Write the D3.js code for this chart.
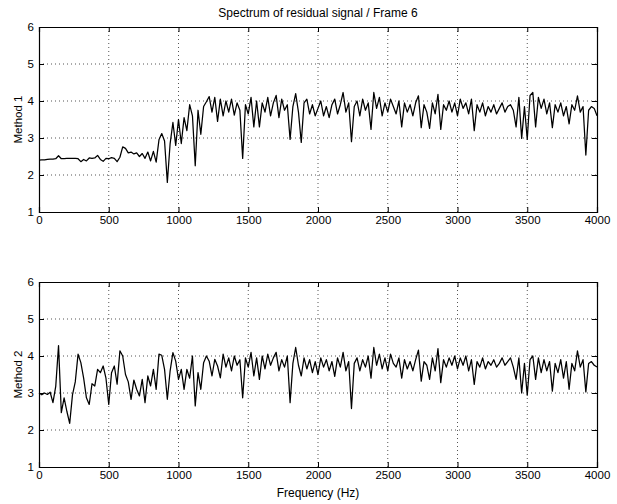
<!DOCTYPE html>
<html>
<head>
<meta charset="utf-8">
<script src="https://cdn.jsdelivr.net/npm/d3@7"></script>
<style>
    body { margin: 0; background: #fff; }
    svg text { font-family: "Liberation Sans", Arial, sans-serif; fill: #000; }
    .axis path, .axis line { stroke: #000; }
    .grid line { stroke: #555; stroke-dasharray: 1,3; }
</style>
</head>
<body>
<svg class="main" width="617" height="504"></svg>
<script>
'use strict';

// frequency step between samples (Hz), samples start at 0
var freqStep = 20;

// Method 1 spectrum, one value every 20 Hz from 0 to 4000
var method1 = [
    2.40, 2.41, 2.41, 2.42, 2.43, 2.43, 2.44, 2.52, 2.44, 2.44,
    2.45, 2.45, 2.45, 2.45, 2.44, 2.36, 2.42, 2.38, 2.46, 2.45,
    2.46, 2.53, 2.42, 2.37, 2.45, 2.44, 2.47, 2.45, 2.36, 2.48,
    2.76, 2.72, 2.60, 2.62, 2.57, 2.60, 2.50, 2.58, 2.45, 2.62,
    2.38, 2.64, 2.35, 2.95, 3.12, 2.92, 1.80, 2.85, 3.42, 2.80,
    3.50, 2.85, 3.55, 3.20, 3.90, 3.60, 2.25, 3.75, 3.10, 3.85,
    3.98, 4.12, 3.70, 4.10, 3.45, 4.05, 3.60, 4.00, 3.70, 4.05,
    3.62, 3.95, 3.75, 2.45, 3.90, 3.65, 4.10, 3.30, 4.00, 3.30,
    3.95, 3.70, 4.10, 3.60, 3.95, 4.15, 3.55, 4.05, 3.75, 3.90,
    2.96, 3.85, 4.20, 3.70, 2.88, 3.95, 4.05, 3.65, 3.90, 3.60,
    3.80, 4.00, 3.60, 3.85, 3.55, 3.90, 4.05, 3.65, 3.90, 4.23,
    3.70, 3.95, 2.90, 3.85, 4.00, 3.60, 4.05, 3.75, 3.95, 3.23,
    4.23, 3.80, 4.10, 3.60, 3.95, 3.70, 4.05, 3.85, 3.65, 4.00,
    3.30, 3.95, 3.70, 3.90, 3.60, 3.95, 4.14, 3.28, 3.90, 3.70,
    3.26, 3.95, 3.65, 4.18, 3.23, 3.90, 3.75, 4.00, 3.70, 3.95,
    3.60, 4.05, 3.80, 3.95, 3.65, 4.05, 3.20, 3.90, 3.70, 3.95,
    3.60, 3.85, 3.70, 3.90, 3.65, 3.80, 3.95, 3.70, 3.85, 3.90,
    3.75, 3.30, 4.10, 2.99, 3.85, 2.96, 4.15, 4.23, 3.30, 4.10,
    3.80, 4.05, 3.65, 3.95, 3.28, 3.90, 3.70, 3.95, 3.60, 3.85,
    3.38, 3.90, 3.75, 4.14, 3.70, 3.85, 2.54, 3.75, 3.85, 3.80,
    3.60
];

// Method 2 spectrum, same frequency grid
var method2 = [
    3.00, 2.95, 3.00, 2.96, 3.02, 2.74, 3.18, 4.28, 2.47, 2.87,
    2.50, 2.18, 2.95, 3.30, 4.05, 3.82, 3.40, 2.87, 2.69, 3.25,
    3.19, 3.64, 3.55, 3.73, 3.40, 2.69, 3.55, 3.73, 3.24, 4.14,
    4.00, 3.50, 3.30, 2.83, 3.35, 3.10, 2.92, 3.37, 2.74, 3.46,
    3.19, 3.64, 3.10, 4.05, 4.02, 3.64, 2.83, 3.60, 4.09, 3.86,
    3.37, 3.64, 3.10, 3.64, 3.40, 4.00, 2.65, 3.55, 3.10, 3.82,
    4.00, 3.86, 3.46, 3.91, 3.73, 3.41, 4.05, 3.70, 3.95, 3.60,
    4.00, 3.75, 3.90, 2.87, 3.95, 3.70, 4.10, 3.46, 3.95, 3.37,
    4.00, 3.65, 4.05, 3.75, 3.95, 4.10, 3.60, 3.90, 3.70, 4.00,
    2.74, 3.80, 4.23, 3.75, 3.46, 3.95, 3.65, 3.90, 3.55, 3.85,
    3.50, 3.95, 3.70, 3.90, 3.60, 3.85, 3.45, 3.95, 3.70, 4.10,
    3.60, 3.85, 2.58, 3.80, 3.95, 3.60, 3.90, 3.70, 4.00, 3.40,
    4.23, 3.75, 4.05, 3.65, 3.95, 3.60, 4.05, 3.80, 3.70, 3.95,
    3.40, 3.90, 3.65, 3.85, 3.60, 3.90, 4.16, 3.32, 3.85, 3.75,
    3.37, 3.95, 3.60, 4.20, 3.28, 3.90, 3.70, 3.95, 3.75, 4.00,
    3.65, 3.95, 3.75, 4.00, 3.60, 3.90, 3.23, 3.85, 3.70, 3.95,
    3.65, 3.85, 3.75, 3.90, 3.70, 3.80, 3.95, 3.75, 3.85, 3.95,
    3.70, 3.37, 3.95, 3.00, 3.80, 2.94, 3.90, 4.00, 3.37, 3.95,
    3.55, 3.90, 3.60, 3.85, 3.05, 3.80, 3.55, 3.90, 3.40, 3.85,
    3.10, 3.80, 3.60, 4.14, 3.70, 3.90, 3.03, 3.80, 3.85, 3.75,
    3.70
];

var xTicks = [0, 500, 1000, 1500, 2000, 2500, 3000, 3500, 4000];
var yTicks = [1, 2, 3, 4, 5, 6];
var panelLabels = ['Method 1', 'Method 2'];
var chartTitle = 'Spectrum of residual signal / Frame 6';
var xLabel = 'Frequency (Hz)';

var left = 39, right = 597;
var panelTops = [27, 282];
var panelHeight = 185;

var svg = d3.select('svg.main');

var x = d3.scaleLinear().domain([0, 4000]).range([left, right]);

function drawPanel(values, top, label, showXLabel) {
    var y = d3.scaleLinear().domain([1, 6]).range([top + panelHeight, top]);
    var g = svg.append('g');

    // dotted grid
    var grid = g.append('g').attr('class', 'grid');
    grid.selectAll('.vgrid')
        .data(xTicks.slice(1, -1))
        .enter()
        .append('line')
        .attr('x1', function (d) { return x(d); })
        .attr('x2', function (d) { return x(d); })
        .attr('y1', top)
        .attr('y2', top + panelHeight);
    grid.selectAll('.hgrid')
        .data(yTicks.slice(1, -1))
        .enter()
        .append('line')
        .attr('x1', left)
        .attr('x2', right)
        .attr('y1', function (d) { return y(d); })
        .attr('y2', function (d) { return y(d); });

    // spectrum line
    var line = d3.line()
        .x(function (d, i) { return x(i * freqStep); })
        .y(function (d) { return y(d); });

    g.append('path')
        .datum(values)
        .attr('d', line)
        .attr('fill', 'none')
        .attr('stroke', '#000')
        .attr('stroke-width', 1.25)
        .attr('stroke-linejoin', 'round');

    // axes with inward ticks on all four sides
    var fmt = d3.format('d');
    g.append('g')
        .attr('class', 'axis')
        .attr('transform', 'translate(0,' + (top + panelHeight) + ')')
        .call(d3.axisBottom(x).tickValues(xTicks).tickSize(-5).tickPadding(4).tickFormat(fmt));
    g.append('g')
        .attr('class', 'axis')
        .attr('transform', 'translate(0,' + top + ')')
        .call(d3.axisTop(x).tickValues(xTicks).tickSize(-5).tickFormat(''));
    g.append('g')
        .attr('class', 'axis')
        .attr('transform', 'translate(' + left + ',0)')
        .call(d3.axisLeft(y).tickValues(yTicks).tickSize(-5).tickPadding(5).tickFormat(fmt));
    g.append('g')
        .attr('class', 'axis')
        .attr('transform', 'translate(' + right + ',0)')
        .call(d3.axisRight(y).tickValues(yTicks).tickSize(-5).tickFormat(''));

    g.selectAll('.axis text')
        .style('font-family', '"Liberation Sans", Arial, sans-serif')
        .style('font-size', '11.5px');
    g.selectAll('.axis .domain').attr('stroke-width', 1.2);

    g.append('text')
        .attr('transform', 'translate(22,' + (top + panelHeight / 2) + ') rotate(-90)')
        .attr('text-anchor', 'middle')
        .style('font-size', '11.5px')
        .text(label);

    if (showXLabel) {
        g.append('text')
            .attr('x', (left + right) / 2)
            .attr('y', top + panelHeight + 30)
            .attr('text-anchor', 'middle')
            .style('font-size', '12px')
            .text(xLabel);
    }
}

svg.append('text')
    .attr('x', (left + right) / 2)
    .attr('y', 17)
    .attr('text-anchor', 'middle')
    .style('font-size', '12px')
    .text(chartTitle);

drawPanel(method1, panelTops[0], panelLabels[0], false);
drawPanel(method2, panelTops[1], panelLabels[1], true);
</script>
</body>
</html>
